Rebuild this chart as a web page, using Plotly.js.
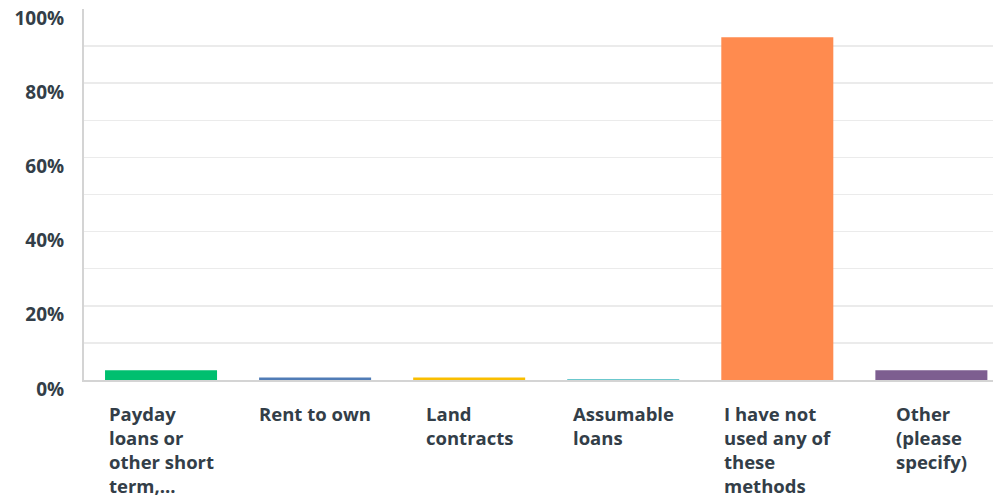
<!DOCTYPE html>
<html><head><meta charset="utf-8">
<script src="https://cdn.plot.ly/plotly-3.0.1.min.js"></script>
<style>html,body{margin:0;padding:0;background:#fff;}#chart{width:993px;height:502px;}</style>
</head><body><div id="chart"></div>
<script>
const categories = ["Payday", "Rent to own", "Land contracts", "Assumable loans", "Not used", "Other"];
const categoryLabels = [
  "Payday<br>loans or<br>other short<br>term,...",
  "Rent to own",
  "Land<br>contracts",
  "Assumable<br>loans",
  "I have not<br>used any of<br>these<br>methods",
  "Other<br>(please<br>specify)"
];
const values = [2.6, 0.7, 0.7, 0.3, 92.4, 2.6];
const barColors = ["#00bf6f", "#507cb6", "#f9be00", "#6bc8cd", "#ff8b4f", "#7d5e90"];
const yTickVals = [0, 20, 40, 60, 80, 100];
const yTickText = ["0%", "20%", "40%", "60%", "80%", "100%"];

const FONT = "Open Sans, sans-serif";
const TXT = "#333e48";

const trace = {
  type: "bar",
  x: categories,
  y: values,
  marker: {color: barColors},
  hoverinfo: "none"
};

const annotations = categories.map((c, i) => ({
  x: c, xref: "x", y: 0, yref: "paper",
  text: categoryLabels[i],
  showarrow: false,
  xanchor: "center", yanchor: "top", align: "left",
  xshift: 0, yshift: -19,
  font: {family: FONT, size: 18.5, color: TXT, weight: 700}
}));

const layout = {
  width: 993, height: 502,
  margin: {l: 84, r: 0, t: 9, b: 122},
  paper_bgcolor: "#fff", plot_bgcolor: "#fff",
  showlegend: false,
  bargap: 0.273,
  xaxis: {
    type: "category",
    range: [-0.5, 5.4],
    showticklabels: false,
    showgrid: false, zeroline: false,
    showline: true, linecolor: "#d4d4d4", linewidth: 2,
    ticks: ""
  },
  yaxis: {
    range: [0, 100],
    tickvals: yTickVals, ticktext: yTickText,
    tickfont: {family: FONT, size: 19, color: TXT, weight: 700},
    ticklabelshift: 9,
    ticklabelstandoff: 14,
    showgrid: true, gridcolor: "#ebebeb", gridwidth: 1.5,
    minor: {dtick: 10, tick0: 0, showgrid: true, gridcolor: "#ebebeb", gridwidth: 1.5, ticks: ""},
    zeroline: false,
    showline: true, linecolor: "#d4d4d4", linewidth: 2,
    ticks: "", fixedrange: true
  },
  annotations: annotations
};

Plotly.newPlot("chart", [trace], layout, {displayModeBar: false, staticPlot: true});
</script></body></html>
